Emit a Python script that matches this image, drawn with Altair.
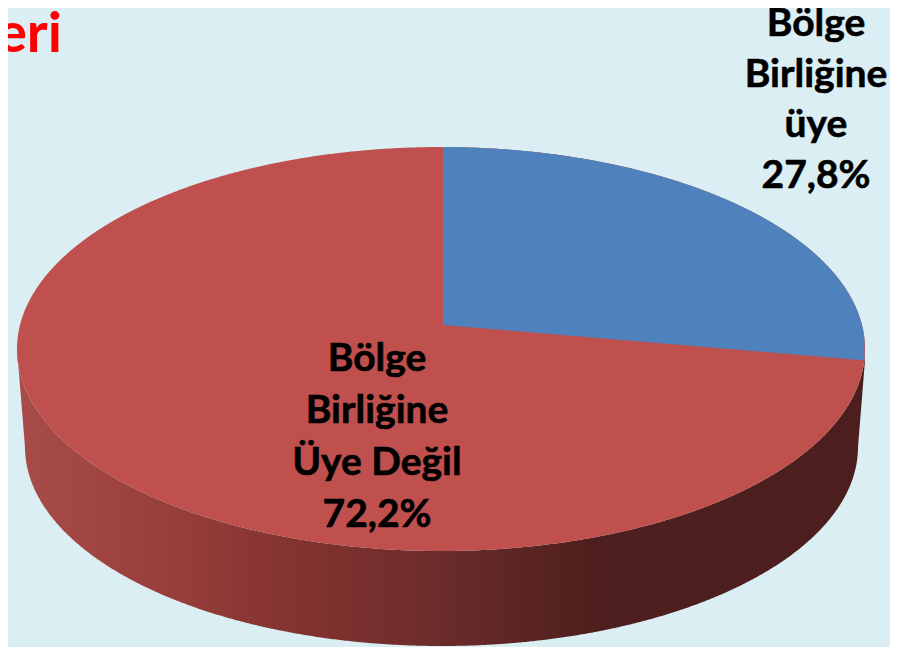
import numpy as np
import pandas as pd
import altair as alt

# Chart values
categories = ["Bölge Birliğine üye", "Bölge Birliğine Üye Değil"]
shares = [27.8, 72.2]
label_lines = [["Bölge", "Birliğine", "üye", "27,8%"],
               ["Bölge", "Birliğine", "Üye Değil", "72,2%"]]
title_fragment = "eri"
colours = ["#4F81BD", "#C0504D"]

# Pie geometry in the reference's pixel space
CX, CY, A, B = 441.0, 349.0, 424.0, 202.0      # top face
APEX_X, APEX_Y = 443.0, 325.0                  # perspective apex of the slices
BX, BY, BA, BB = 441.5, 447.0, 416.5, 199.0    # lower rim


def top_half(x, sign):
    return CY + sign * B * np.sqrt(np.clip(1 - ((x - CX) / A) ** 2, 0, 1))


def rim(x):
    return BY + BB * np.sqrt(np.clip(1 - ((x - BX) / BA) ** 2, 0, 1))


# Boundary of the first slice, from its share
angle = np.deg2rad(shares[0] * 3.6 - 90)
end_y = APEX_Y + B * np.sin(angle)
end_x = CX + A * np.sqrt(1 - ((end_y - CY) / B) ** 2)

xs = CX - A * np.cos(np.linspace(0, np.pi, 721))
face = pd.DataFrame({"x": xs, "y": top_half(xs, -1), "y2": top_half(xs, 1)})

xb = np.linspace(APEX_X, end_x, 300)
t = (xb - APEX_X) / (end_x - APEX_X)
blue = pd.DataFrame({"x": xb, "y": top_half(xb, -1), "y2": APEX_Y + t * (end_y - APEX_Y)})

lx, rx = BX - BA, BX + BA
xside = xs
side_low = rim(xside)
left = xside < lx
right = xside > rx
side_low[left] = CY + (xside[left] - (CX - A)) / (lx - (CX - A)) * (BY - CY)
side_low[right] = end_y + (CX + A - xside[right]) / (CX + A - rx) * (BY - end_y)
side = pd.DataFrame({"x": xside, "y": top_half(xside, 1), "y2": side_low})

X = alt.Scale(domain=[8, 890], range=[0, 882])
Y = alt.Scale(domain=[647, 8], range=[639, 0])
enc = dict(x=alt.X("x:Q", scale=X, axis=None),
           y=alt.Y("y:Q", scale=Y, axis=None),
           y2="y2:Q")

gradient = alt.LinearGradient(
    gradient="linear", x1=0, x2=1, y1=0, y2=0,
    stops=[alt.GradientStop(offset=0, color="#A84C49"),
           alt.GradientStop(offset=0.16, color="#9A403C"),
           alt.GradientStop(offset=0.33, color="#83332F"),
           alt.GradientStop(offset=0.5, color="#6B2C2B"),
           alt.GradientStop(offset=0.68, color="#4E1F1E"),
           alt.GradientStop(offset=1, color="#4C1E1E")])

layers = [
    alt.Chart(side).mark_area(color=gradient, interpolate="linear").encode(**enc),
    alt.Chart(face).mark_area(color=colours[1], interpolate="linear").encode(**enc),
    alt.Chart(blue).mark_area(color=colours[0], interpolate="linear").encode(**enc),
]

rows = []
for lines, cx, y0, step in zip(label_lines, (816, 377), (36, 370.5), (50.7, 52)):
    for i, line in enumerate(lines):
        rows.append({"x": cx, "y": y0 + i * step, "t": line})
labels = pd.DataFrame(rows)
layers.append(
    alt.Chart(labels).mark_text(font="Lato", fontWeight="bold", fontSize=39, color="#000000",
                                stroke="#000000", strokeWidth=0.6,
                                align="center", baseline="alphabetic")
    .encode(x=alt.X("x:Q", scale=X, axis=None), y=alt.Y("y:Q", scale=Y, axis=None), text="t:N")
)
head = pd.DataFrame({"x": [62], "y": [52], "t": [title_fragment]})
layers.append(
    alt.Chart(head).mark_text(font="Lato", fontWeight="bold", fontSize=56, color="#FF0000",
                              align="right", baseline="alphabetic")
    .encode(x=alt.X("x:Q", scale=X, axis=None), y=alt.Y("y:Q", scale=Y, axis=None), text="t:N")
)

chart = (
    alt.layer(*layers)
    .properties(width=882, height=639, background="#DBEEF4", padding=0,
                autosize=alt.AutoSizeParams(type="none"))
    .configure_view(stroke=None)
)
chart.save("out.html", embed_options={"renderer": "svg", "actions": False})
